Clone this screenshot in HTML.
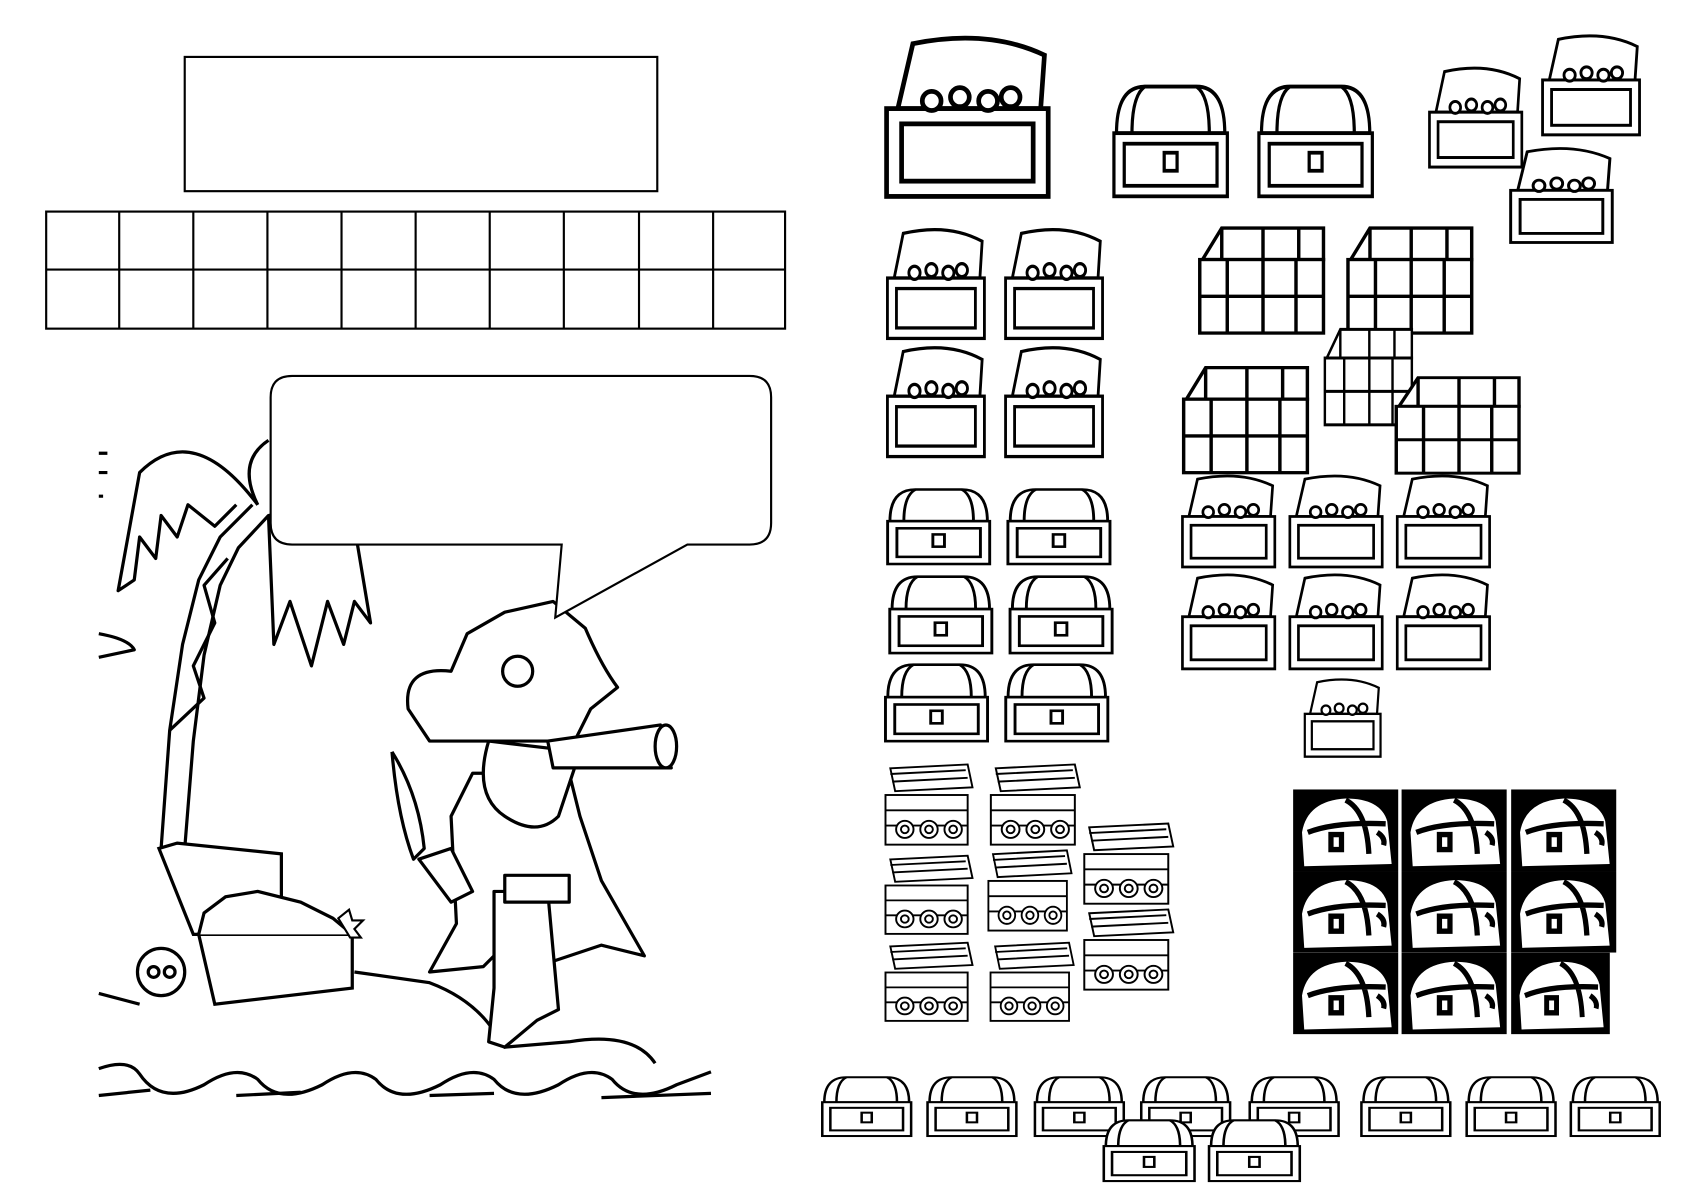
<!DOCTYPE html>
<html><head><meta charset="utf-8"><style>html,body{margin:0;padding:0;background:#fff}svg{display:block}</style></head>
<body>
<svg width="1684" height="1190" viewBox="0 0 1568 1108" preserveAspectRatio="none" xmlns="http://www.w3.org/2000/svg">
<defs>
<symbol id="c" viewBox="0 0 100 80" preserveAspectRatio="none">
<g fill="#fff" stroke="#000" stroke-width="2.5">
<path d="M8 35 Q8 4 30 4 L70 4 Q92 4 92 35 Z"/>
<rect x="6" y="35" width="88" height="42"/>
<rect x="14" y="42" width="72" height="28"/>
<path d="M30 4 Q20 10 20 35 M70 4 Q80 10 80 35" fill="none"/>
<rect x="45" y="48" width="10" height="12"/>
</g>
</symbol>
<symbol id="o" viewBox="0 0 100 90" preserveAspectRatio="none">
<g fill="#fff" stroke="#000" stroke-width="2.5">
<path d="M12 40 L20 6 Q60 -2 90 12 L88 40 Z"/>
<rect x="6" y="40" width="86" height="46"/>
<rect x="14" y="48" width="70" height="30"/>
<circle cx="30" cy="36" r="5"/><circle cx="45" cy="34" r="5"/><circle cx="60" cy="36" r="5"/><circle cx="72" cy="34" r="5"/>
</g>
</symbol>
<symbol id="t" viewBox="0 0 100 90" preserveAspectRatio="none">
<g fill="#fff" stroke="#000" stroke-width="2.5">
<path d="M6 30 L20 6 L94 6 L94 30 Z"/>
<rect x="4" y="30" width="90" height="56"/>
<path d="M24 30 V86 M50 30 V86 M74 30 V86 M4 58 H94 M20 6 V30 M50 6 V30 M76 6 V30" fill="none"/>
</g>
</symbol>
<symbol id="p" viewBox="0 0 100 90" preserveAspectRatio="none">
<g fill="#fff" stroke="#000" stroke-width="2">
<path d="M10 6 L90 2 L95 26 L15 30 Z"/>
<rect x="5" y="34" width="85" height="52"/>
<path d="M10 12 L88 8 M12 20 L90 16 M5 50 H90 M5 66 H90" fill="none"/>
<circle cx="25" cy="70" r="9"/><circle cx="50" cy="70" r="9"/><circle cx="75" cy="70" r="9"/>
<circle cx="25" cy="70" r="4"/><circle cx="50" cy="70" r="4"/><circle cx="75" cy="70" r="4"/>
</g>
</symbol>
<symbol id="b" viewBox="0 0 100 76" preserveAspectRatio="none">
<rect width="100" height="76" fill="#000"/>
<g fill="#fff" stroke="#fff" stroke-width="3">
<path d="M10 40 Q15 12 50 10 Q82 10 88 30 L92 68 L12 70 Z"/>
</g>
<g fill="none" stroke="#000" stroke-width="5">
<path d="M14 40 Q40 30 88 32 M50 10 Q70 20 72 60 M36 42 V56 H46 V42 Z M80 40 Q88 45 86 52"/>
</g>
</symbol>
</defs>

<rect x="172" y="53" width="440" height="125" fill="none" stroke="#000" stroke-width="2"/>
<rect x="43" y="197" width="688" height="109" fill="none" stroke="#000" stroke-width="2"/>
<line x1="43" y1="251" x2="731" y2="251" stroke="#000" stroke-width="2"/>
<g stroke="#000" stroke-width="2">
<line x1="111" y1="197" x2="111" y2="306"/><line x1="180" y1="197" x2="180" y2="306"/>
<line x1="249" y1="197" x2="249" y2="306"/><line x1="318" y1="197" x2="318" y2="306"/>
<line x1="387" y1="197" x2="387" y2="306"/><line x1="456" y1="197" x2="456" y2="306"/>
<line x1="525" y1="197" x2="525" y2="306"/><line x1="595" y1="197" x2="595" y2="306"/>
<line x1="664" y1="197" x2="664" y2="306"/>
</g>

<g fill="none" stroke="#000" stroke-width="3" stroke-linejoin="round">
<path d="M150 790 L158 680 L170 600 L185 540 L205 500 L235 470"/>
<path d="M172 790 L180 690 L190 610 L205 545 L222 510 L250 480"/>
<path d="M158 680 L190 650 L180 620 L200 580 L190 545 L212 520"/>
<path d="M240 470 Q180 390 130 440 L110 550 L125 540 L130 500 L145 520 L150 480 L165 500 L175 470 L200 490 L220 470"/>
<path d="M250 480 Q290 470 330 490 L345 580 L330 560 L320 600 L305 560 L290 620 L270 560 L255 600 Z"/>
<path d="M240 470 Q220 430 250 410"/>
<path d="M92 590 Q120 595 125 605 L92 612"/>
<path d="M92 422 h8 M92 440 h8 M92 462 h4"/>
</g>
<g fill="#fff" stroke="#000" stroke-width="3">
<path d="M148 790 L165 785 L262 795 L262 870 L180 870 Z"/>
<path d="M185 870 L328 870 L328 920 L200 935 Z"/>
<path d="M185 870 L190 850 L210 835 L240 830 L280 840 L310 855 L328 870"/>
<circle cx="150" cy="905" r="22"/>
<circle cx="143" cy="905" r="5"/><circle cx="158" cy="905" r="5"/>
</g>
<path d="M315 855 l10 -8 l3 10 l10 0 l-8 8 l6 8 l-10 0 z" fill="#fff" stroke="#000" stroke-width="2"/>

<g fill="none" stroke="#000" stroke-width="3">
<path d="M92 925 L130 935 M330 905 L400 915 Q440 930 460 960 L470 975 L530 970 Q590 960 610 990"/>
<path d="M92 995 Q120 985 130 1000 Q150 1030 190 1010 Q220 990 240 1005 Q260 1030 300 1010 Q330 990 350 1005 Q370 1030 410 1010 Q440 990 460 1005 Q480 1030 520 1010 Q550 990 570 1005 Q590 1030 630 1010 L662 998"/>
<path d="M92 1020 L140 1015 M220 1020 L280 1017 M400 1020 L460 1018 M560 1022 L662 1018"/>
</g>
<g fill="#fff" stroke="#000" stroke-width="3" stroke-linejoin="round">
<path d="M440 720 L420 760 L425 860 L400 905 L450 900 L470 880 L490 870 L500 900 L560 880 L600 890 L560 820 L540 760 L530 720 Z"/>
<path d="M460 830 L460 920 L455 970 L470 975 L500 950 L520 940 L510 830 Z"/>
<path d="M380 660 Q375 620 420 625 L435 590 L470 570 L515 560 L545 585 Q560 620 575 640 L550 660 L535 690 L400 690 Z"/>
<path d="M455 690 Q440 740 470 760 Q500 780 520 760 L540 700 Z"/>
<path d="M510 690 L615 675 L625 715 L515 715 Z"/>
<ellipse cx="620" cy="695" rx="10" ry="20"/>
<path d="M365 700 Q390 740 395 790 L385 800 Q370 760 365 700"/>
<path d="M390 800 L420 790 L440 830 L420 840 Z"/>
<rect x="470" y="815" width="60" height="25"/>
<circle cx="482" cy="625" r="14"/>
</g>

<path d="M272 350 L698 350 Q718 350 718 370 L718 487 Q718 507 698 507 L640 507 L517 575 L523 507 L272 507 Q252 507 252 487 L252 370 Q252 350 272 350 Z" fill="#fff" stroke="#000" stroke-width="2"/>

<use href="#o" x="815" y="30" width="175" height="160"/>
<use href="#c" x="1030" y="75" width="120" height="112"/>
<use href="#c" x="1165" y="75" width="120" height="112"/>
<use href="#o" x="1325" y="60" width="100" height="100"/>
<use href="#o" x="1430" y="30" width="105" height="100"/>
<use href="#o" x="1400" y="135" width="110" height="95"/>

<use href="#o" x="820" y="210" width="105" height="110"/>
<use href="#o" x="930" y="210" width="105" height="110"/>
<use href="#o" x="820" y="320" width="105" height="110"/>
<use href="#o" x="930" y="320" width="105" height="110"/>

<use href="#t" x="1112" y="205" width="128" height="110"/>
<use href="#t" x="1250" y="205" width="128" height="110"/>
<use href="#t" x="1230" y="300" width="90" height="100"/>
<use href="#t" x="1097" y="335" width="128" height="110"/>
<use href="#t" x="1295" y="345" width="127" height="100"/>

<use href="#c" x="820" y="452" width="108" height="76"/>
<use href="#c" x="932" y="452" width="108" height="76"/>
<use href="#c" x="822" y="533" width="108" height="78"/>
<use href="#c" x="934" y="533" width="108" height="78"/>
<use href="#c" x="818" y="615" width="108" height="78"/>
<use href="#c" x="930" y="615" width="108" height="78"/>

<use href="#o" x="1095" y="440" width="100" height="92"/>
<use href="#o" x="1195" y="440" width="100" height="92"/>
<use href="#o" x="1295" y="440" width="100" height="92"/>
<use href="#o" x="1095" y="532" width="100" height="95"/>
<use href="#o" x="1195" y="532" width="100" height="95"/>
<use href="#o" x="1295" y="532" width="100" height="95"/>
<use href="#o" x="1210" y="630" width="82" height="78"/>

<use href="#p" x="820" y="710" width="90" height="80"/>
<use href="#p" x="918" y="710" width="92" height="80"/>
<use href="#p" x="820" y="795" width="90" height="78"/>
<use href="#p" x="916" y="790" width="86" height="80"/>
<use href="#p" x="820" y="876" width="90" height="78"/>
<use href="#p" x="918" y="876" width="86" height="78"/>
<use href="#p" x="1005" y="765" width="92" height="80"/>
<use href="#p" x="1005" y="845" width="92" height="80"/>

<use href="#b" x="1204" y="735" width="98" height="76"/>
<use href="#b" x="1305" y="735" width="98" height="76"/>
<use href="#b" x="1407" y="735" width="98" height="76"/>
<use href="#b" x="1204" y="811" width="98" height="76"/>
<use href="#b" x="1305" y="811" width="98" height="76"/>
<use href="#b" x="1407" y="811" width="98" height="76"/>
<use href="#b" x="1204" y="887" width="98" height="76"/>
<use href="#b" x="1305" y="887" width="98" height="76"/>
<use href="#b" x="1407" y="887" width="92" height="76"/>

<use href="#c" x="760" y="1000" width="94" height="60"/>
<use href="#c" x="858" y="1000" width="94" height="60"/>
<use href="#c" x="958" y="1000" width="94" height="60"/>
<use href="#c" x="1057" y="1000" width="94" height="60"/>
<use href="#c" x="1158" y="1000" width="94" height="60"/>
<use href="#c" x="1262" y="1000" width="94" height="60"/>
<use href="#c" x="1360" y="1000" width="94" height="60"/>
<use href="#c" x="1457" y="1000" width="94" height="60"/>
<use href="#c" x="1022" y="1040" width="96" height="62"/>
<use href="#c" x="1120" y="1040" width="96" height="62"/>
</svg>
</body></html>
